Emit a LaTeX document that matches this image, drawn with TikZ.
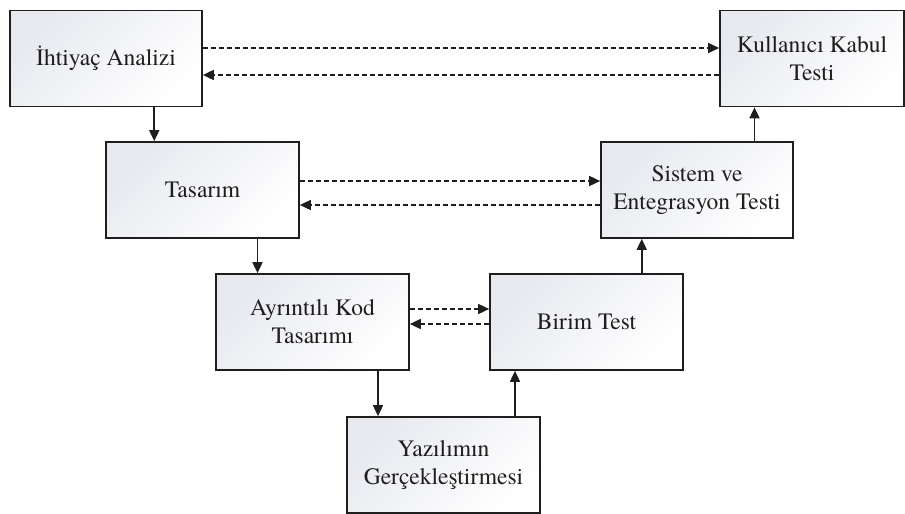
\documentclass[tikz,border=0pt]{standalone}
\usepackage{fontspec}
\setmainfont{texgyretermes-regular.otf}
\usetikzlibrary{calc,arrows.meta}
\definecolor{boxshade}{RGB}{231,233,239}
\definecolor{ink}{RGB}{30,30,30}
\begin{document}
\begin{tikzpicture}[x=1pt,y=-1pt,
  stage/.style={draw=ink, line width=1.7pt, shading=axis, top color=boxshade,
    bottom color=white, shading angle=45, minimum height=96pt,
    align=center, inner sep=2pt, text=ink,
    font=\rmfamily\fontsize{23.5}{28}\selectfont},
  flow/.style={draw=ink, line width=1.7pt, -{Triangle[length=11pt,width=10pt]}},
  link/.style={flow, dash pattern=on 5pt off 3pt}]
\useasboundingbox (0,0) rectangle (905,514);

\node[stage, minimum width=192pt] (ia) at (106,58.5) {İhtiyaç Analizi};
\node[stage, minimum width=184pt] (kk) at (812,58.5) {Kullanıcı Kabul\\Testi};
\node[stage, minimum width=193pt] (ta) at (202.5,190) {Tasarım};
\node[stage, minimum width=192pt] (se) at (697,190) {Sistem ve\\Entegrasyon Testi};
\node[stage, minimum width=193pt] (ak) at (312.5,322) {Ayrıntılı Kod\\Tasarımı};
\node[stage, minimum width=193pt] (bt) at (586.5,322) {Birim Test};
\node[stage, minimum width=193pt] (yg) at (443.5,465) {Yazılımın\\Gerçekleştirmesi};

% vertical steps between stages, midway between box centres
\coordinate (m1) at ($(ia.center)!0.5!(ta.center)$);
\coordinate (m2) at ($(ta.center)!0.5!(ak.center)$);
\coordinate (m3) at ($(ak.center)!0.5!(yg.center)$);
\coordinate (m4) at ($(yg.center)!0.5!(bt.center)$);
\coordinate (m5) at ($(bt.center)!0.5!(se.center)$);
\coordinate (m6) at ($(se.center)!0.5!(kk.center)$);
\draw[flow] (m1 |- ia.south) -- (m1 |- ta.north);
\draw[flow] (m2 |- ta.south) -- (m2 |- ak.north);
\draw[flow] (m3 |- ak.south) -- (m3 |- yg.north);
\draw[flow] (m4 |- yg.north) -- (m4 |- bt.south);
\draw[flow] (m5 |- bt.north) -- (m5 |- se.south);
\draw[flow] (m6 |- se.north) -- (m6 |- kk.south);

% dashed verification links
\draw[link] (ia.east |- 0,48) -- (kk.west |- 0,48);
\draw[link] (kk.west |- 0,75) -- (ia.east |- 0,75);
\draw[link] (ta.east |- 0,181) -- (se.west |- 0,181);
\draw[link] (se.west |- 0,205) -- (ta.east |- 0,205);
\draw[link] (ak.east |- 0,309) -- (bt.west |- 0,309);
\draw[link] (bt.west |- 0,324) -- (ak.east |- 0,324);
\end{tikzpicture}
\end{document}
